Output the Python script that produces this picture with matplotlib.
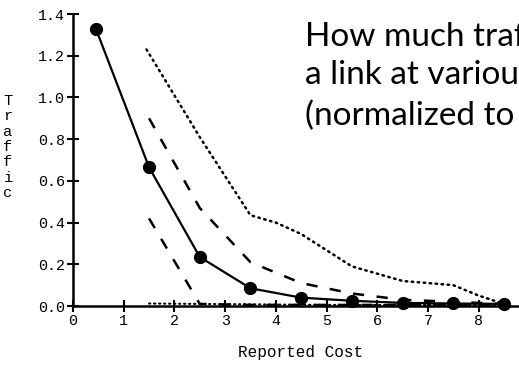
import matplotlib
matplotlib.use('Agg')
import matplotlib.pyplot as plt

plt.rcParams.update({
    'font.family': 'Liberation Mono',
    'font.size': 10.5,
})

# data
cost_solid = [0.45, 1.5, 2.5, 3.5, 4.5, 5.5, 6.5, 7.5, 8.5]
traffic_solid = [1.33, 0.665, 0.235, 0.085, 0.04, 0.025, 0.015, 0.012, 0.01]

cost_dot = [1.45, 2.5, 3.5, 4.0, 4.5, 5.5, 6.5, 7.5, 8.0, 8.5]
traffic_dot = [1.23, 0.81, 0.435, 0.40, 0.345, 0.19, 0.12, 0.10, 0.05, 0.01]

cost_dash_hi = [1.5, 2.5, 3.5, 4.5, 5.5, 6.5, 7.5, 8.5]
traffic_dash_hi = [0.90, 0.47, 0.21, 0.11, 0.06, 0.03, 0.02, 0.01]

cost_dash_lo = [1.5, 2.5, 3.5, 4.5, 5.5, 6.5, 7.5, 8.5]
traffic_dash_lo = [0.42, 0.01, 0.005, 0.005, 0.005, 0.005, 0.005, 0.005]

cost_dot_lo = [1.5, 2.5, 3.5, 4.5, 5.5, 6.5, 7.5, 8.5]
traffic_dot_lo = [0.012, 0.01, 0.008, 0.006, 0.005, 0.005, 0.005, 0.005]

xticks = [0, 1, 2, 3, 4, 5, 6, 7, 8]
yticks = [0.0, 0.2, 0.4, 0.6, 0.8, 1.0, 1.2, 1.4]

title = 'How much traffic is sent to\na link at various reported costs\n(normalized to one hop)'

fig = plt.figure(figsize=(5.19, 3.65), dpi=100)
ax = fig.add_axes([73/519, 59/365, 1 - 73/519, 292/365])

ax.plot(cost_solid, traffic_solid, color='black', lw=1.6, marker='o', ms=8.5, clip_on=False)
ax.plot(cost_dot, traffic_dot, color='black', lw=1.8, ls=(0, (0.6, 1.8)), dash_capstyle='round', clip_on=False)
ax.plot(cost_dash_hi, traffic_dash_hi, color='black', lw=1.8, ls=(0, (4.5, 5.0)), clip_on=False)
ax.plot(cost_dash_lo, traffic_dash_lo, color='black', lw=1.8, ls=(0, (4.5, 5.0)), clip_on=False)
ax.plot(cost_dot_lo, traffic_dot_lo, color='black', lw=1.5, ls=(0, (0.6, 1.8)), dash_capstyle='round', clip_on=False)

ax.set_xlim(0, 446/50.7)
ax.set_ylim(0, 1.4)
ax.set_xticks(xticks)
ax.set_xticklabels([str(t) for t in xticks])
ax.set_yticks(yticks)
ax.set_yticklabels(['%.1f' % t for t in yticks])
for s in ['top', 'right']:
    ax.spines[s].set_visible(False)
for s in ['left', 'bottom']:
    ax.spines[s].set_linewidth(1.8)
ax.tick_params(direction='inout', length=9, width=1.5, pad=1, labelsize=10.8)

fig.text(238/519, 1 - 352/365, 'Reported Cost', ha='left', va='center', fontsize=11.5)
fig.text(8/519, 1 - 147/365, '\n'.join('Traffic'), ha='center', va='center',
         fontsize=11, linespacing=1.12)

fig.text(305/519, 1 - 125/365, title, ha='left', va='baseline', family='Lato',
         fontsize=24, linespacing=1.35)

fig.savefig('out.png', dpi=100)
